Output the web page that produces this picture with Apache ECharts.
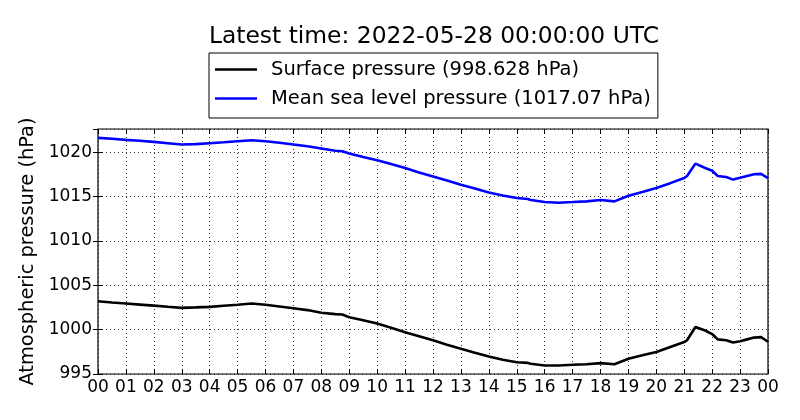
<!DOCTYPE html>
<html>
<head>
<meta charset="utf-8">
<script src="https://cdn.jsdelivr.net/npm/echarts@6/dist/echarts.min.js"></script>
<style>
html,body{margin:0;padding:0;background:#fff;}
#chart{width:800px;height:420px;}
</style>
</head>
<body>
<div id="chart"></div>
<script>
const hours = [0,0.5,1,1.5,2,2.5,3,3.5,4,4.5,5,5.5,6,6.5,7,7.5,8,8.5,8.75,9,9.5,10,10.5,11,11.5,12,12.5,13,13.5,14,14.5,15,15.4,15.5,16,16.5,17,17.5,18,18.5,19,19.5,20,20.5,21,21.1,21.4,21.75,22,22.2,22.5,22.75,23,23.25,23.5,23.75,24];
const surfacePressure = [1003.2,1003.05,1002.94,1002.82,1002.7,1002.57,1002.45,1002.5,1002.56,1002.68,1002.8,1002.94,1002.8,1002.6,1002.4,1002.2,1001.9,1001.75,1001.7,1001.4,1001.05,1000.68,1000.2,999.7,999.25,998.79,998.3,997.85,997.4,996.98,996.6,996.33,996.25,996.15,995.96,995.95,996.04,996.1,996.22,996.1,996.72,997.1,997.47,998.05,998.6,998.8,1000.3,999.9,999.5,998.9,998.8,998.55,998.7,998.9,999.1,999.15,998.63];
const seaLevelPressure = [1021.6,1021.5,1021.38,1021.28,1021.15,1021.0,1020.85,1020.9,1021.0,1021.1,1021.22,1021.33,1021.22,1021.05,1020.85,1020.65,1020.4,1020.15,1020.1,1019.85,1019.45,1019.07,1018.65,1018.2,1017.7,1017.26,1016.8,1016.32,1015.9,1015.45,1015.1,1014.82,1014.72,1014.6,1014.37,1014.3,1014.37,1014.45,1014.6,1014.45,1015.08,1015.5,1015.95,1016.5,1017.08,1017.3,1018.7,1018.2,1017.9,1017.3,1017.2,1016.9,1017.1,1017.3,1017.5,1017.55,1017.07];
const seriesNames = ['Surface pressure (998.628 hPa)','Mean sea level pressure (1017.07 hPa)'];
const titleText = 'Latest time: 2022-05-28 00:00:00 UTC';
const yName = 'Atmospheric pressure (hPa)';

const FONT = 'DejaVu Sans';
const chart = echarts.init(document.getElementById('chart'), null, {renderer:'canvas'});
const grid = {left:98, right:32, top:129, bottom:46, show:true, borderColor:'#000', borderWidth:1.2, backgroundColor:'transparent'};
const tickStyle = {show:true, inside:true, length:5, lineStyle:{color:'#000', width:1}};
const gridLine = {show:true, lineStyle:{color:'#000', width:0.8, type:[1,3]}};
const fmtHour = v => String(Math.round(v) % 24).padStart(2,'0');
const fmtY = v => (Math.abs(v % 5) < 1e-6 ? String(v) : '');

chart.setOption({
  animation:false,
  backgroundColor:'#fff',
  textStyle:{fontFamily:FONT},
  title:{text:titleText, left:429, textAlign:'center', top:20,
    textStyle:{fontFamily:FONT, fontSize:23.4, fontWeight:'normal', color:'#000'}},
  legend:{
    orient:'vertical', left:209, top:53,
    padding:[5,7,8,6], itemGap:6,
    borderColor:'#000', borderWidth:1, backgroundColor:'#fff',
    itemWidth:42, itemHeight:2.6,
    textStyle:{fontFamily:FONT, fontSize:19.5, color:'#000', padding:[0,0,0,9], lineHeight:23},
    data:[{name:seriesNames[0], icon:'rect'},{name:seriesNames[1], icon:'rect'}]
  },
  grid:grid,
  xAxis:[{
    type:'value', min:0, max:24, interval:1, position:'bottom',
    axisLine:{show:false}, axisTick:tickStyle, splitLine:gridLine,
    axisLabel:{formatter:fmtHour, fontFamily:FONT, fontSize:17, color:'#000', margin:5}
  },{
    type:'value', min:0, max:24, interval:1, position:'top',
    axisLine:{show:false}, axisTick:tickStyle, splitLine:{show:false}, axisLabel:{show:false}
  }],
  yAxis:[{
    type:'value', min:995, max:1022.6, interval:5, position:'left',
    axisLine:{show:false}, axisTick:tickStyle, splitLine:gridLine,
    axisLabel:{formatter:fmtY, fontFamily:FONT, fontSize:17, color:'#000', margin:6, showMaxLabel:false},
    name:yName, nameLocation:'middle', nameGap:59, nameRotate:90,
    nameTextStyle:{fontFamily:FONT, fontSize:19.4, color:'#000'}
  },{
    type:'value', min:995, max:1022.6, interval:5, position:'right',
    axisLine:{show:false}, axisTick:tickStyle, splitLine:{show:false}, axisLabel:{show:false}
  }],
  series:[{
    name:seriesNames[0], type:'line', xAxisIndex:0, yAxisIndex:0,
    showSymbol:false, symbol:'none', smooth:false,
    lineStyle:{color:'#000', width:2.6}, itemStyle:{color:'#000'},
    data:hours.map((h,i)=>[h, surfacePressure[i]])
  },{
    name:seriesNames[1], type:'line', xAxisIndex:0, yAxisIndex:0,
    showSymbol:false, symbol:'none', smooth:false,
    lineStyle:{color:'#0000ff', width:2.6}, itemStyle:{color:'#0000ff'},
    data:hours.map((h,i)=>[h, seaLevelPressure[i]])
  }]
});
</script>
</body>
</html>
